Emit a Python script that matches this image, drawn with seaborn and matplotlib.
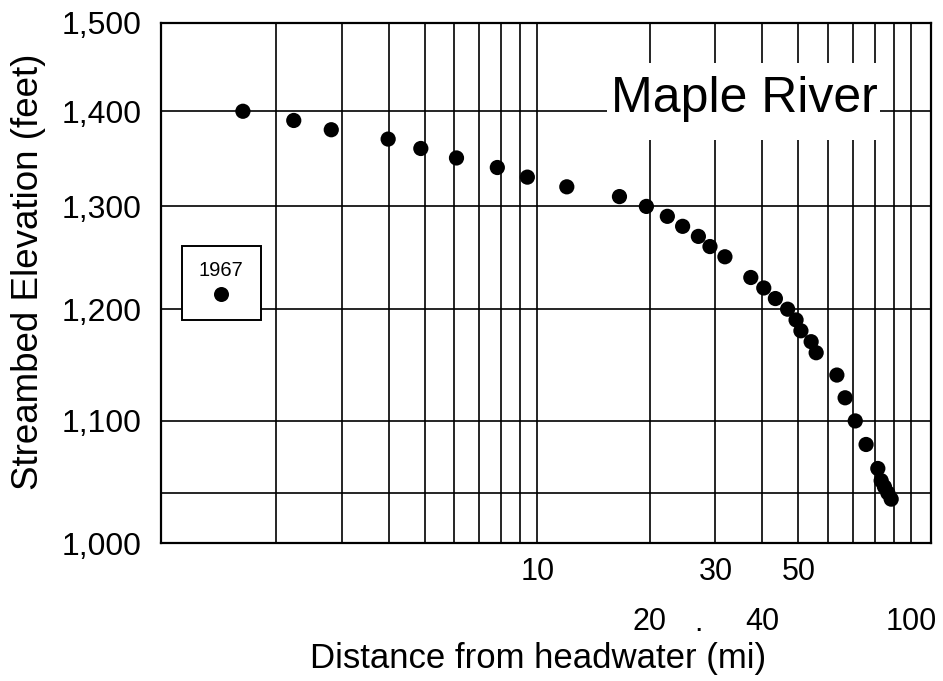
import numpy as np
import pandas as pd
import matplotlib
matplotlib.use("Agg")
import matplotlib.pyplot as plt
import matplotlib.ticker as mticker
from matplotlib.patches import Rectangle
import seaborn as sns

# ---- data ----
distance_mi = [1.63, 2.23, 2.81, 3.99, 4.88, 6.08, 7.82, 9.41, 12.0, 16.6,
               19.6, 22.3, 24.5, 27.0, 29.0, 31.8, 37.3, 40.4, 43.4, 46.8,
               49.3, 50.8, 54.1, 55.8, 63.4, 66.7, 71.0, 75.9, 81.6, 83.3,
               85.0, 86.8, 88.6]
elevation_ft = [1400, 1390, 1380, 1370, 1360, 1350, 1340, 1330, 1320, 1310,
                1300, 1290, 1280, 1270, 1260, 1250, 1230, 1220, 1210, 1200,
                1190, 1180, 1170, 1160, 1140, 1120, 1100, 1080, 1060, 1050,
                1045, 1040, 1035]
survey_year = "1967"
title_text = "Maple River"
x_label = "Distance from headwater (mi)"
y_label = "Streambed Elevation (feet)"
y_ticks = [1000, 1100, 1200, 1300, 1400, 1500]
x_ticks_row1 = [10, 30, 50]
x_ticks_row2 = [20, 40, 100]
extra_hline = 1040
stray_mark = "."

df = pd.DataFrame({"distance": distance_mi, "elevation": elevation_ft,
                   "year": [survey_year] * len(distance_mi)})

sns.set_theme(style="white")
plt.rcParams["font.family"] = ["Liberation Sans", "DejaVu Sans"]

fig = plt.figure(figsize=(9.43, 6.81), dpi=100)
ax = fig.add_axes([0.1704, 0.2022, 0.8165, 0.7645])
ax.set_xscale("log")
ax.set_yscale("log")

sns.scatterplot(data=df, x="distance", y="elevation", hue="year",
                palette={survey_year: "black"}, s=120, edgecolor="black",
                linewidth=0, ax=ax, zorder=5)

ax.set_xlim(0.982, 113)
ax.set_ylim(1000, 1500)

# grid lines
grid_x = [v for v in mticker.LogLocator(base=10, subs=np.arange(1, 10)).tick_values(1, 100)
          if 1.5 < v <= 100.5]
ax.vlines(grid_x, 0, 1, transform=ax.get_xaxis_transform(), color="black",
          lw=1.2, zorder=1)
for yv in y_ticks[1:-1] + [extra_hline]:
    ax.axhline(yv, color="black", lw=1.2, zorder=1)

# y ticks
ax.yaxis.set_major_locator(mticker.FixedLocator(y_ticks))
ax.yaxis.set_minor_locator(mticker.NullLocator())
ax.yaxis.set_major_formatter(mticker.FuncFormatter(lambda v, p: f"{v:,.0f}"))
ax.tick_params(axis="y", which="major", length=0, pad=14, labelsize=23,
               labelcolor="black")

# x ticks in two rows
ax.xaxis.set_major_locator(mticker.FixedLocator(x_ticks_row1))
ax.xaxis.set_major_formatter(mticker.FixedFormatter([str(v) for v in x_ticks_row1]))
ax.xaxis.set_minor_locator(mticker.FixedLocator(x_ticks_row2))
ax.xaxis.set_minor_formatter(mticker.FixedFormatter([str(v) for v in x_ticks_row2]))
ax.tick_params(axis="x", which="major", length=0, pad=10, labelsize=22,
               labelcolor="black")
ax.tick_params(axis="x", which="minor", length=0, pad=46, labelsize=22,
               labelcolor="black")

ax.text(0.699, -0.168, stray_mark, transform=ax.transAxes, fontsize=22,
        ha="center", va="baseline", color="black")

ax.set_xlabel(x_label, fontsize=25, color="black")
ax.xaxis.set_label_coords(0.49, -0.19)
ax.set_ylabel(y_label, fontsize=26.5, color="black")
ax.yaxis.set_label_coords(-0.149, 0.522)

for s in ax.spines.values():
    s.set_color("black")
    s.set_linewidth(1.6)
    s.set_visible(True)

# title with white box
ax.add_patch(Rectangle((0.5796, 0.7747), 0.3544, 0.1479, transform=ax.transAxes,
                       facecolor="white", edgecolor="none", zorder=3))
ax.text(0.7575, 0.829, title_text, transform=ax.transAxes, fontsize=36,
        ha="center", va="baseline", color="black", zorder=4)

# legend
handles, labels = ax.get_legend_handles_labels()
for h in handles:
    try:
        h.set_markersize(10.8)
    except Exception:
        pass
leg = ax.legend(handles, [""], title=survey_year, loc="upper left",
                bbox_to_anchor=(0.0273, 0.5717), borderaxespad=0,
                frameon=True, fancybox=False, framealpha=1, edgecolor="black",
                fontsize=14, title_fontsize=14.5, borderpad=0.8,
                labelspacing=0.35, handlelength=2.47, handletextpad=0,
                alignment="center", numpoints=1, scatterpoints=1)
leg.get_title().set_color("black")
leg.get_frame().set_linewidth(1.4)
leg.set_zorder(6)

fig.savefig("out.png", dpi=100)
